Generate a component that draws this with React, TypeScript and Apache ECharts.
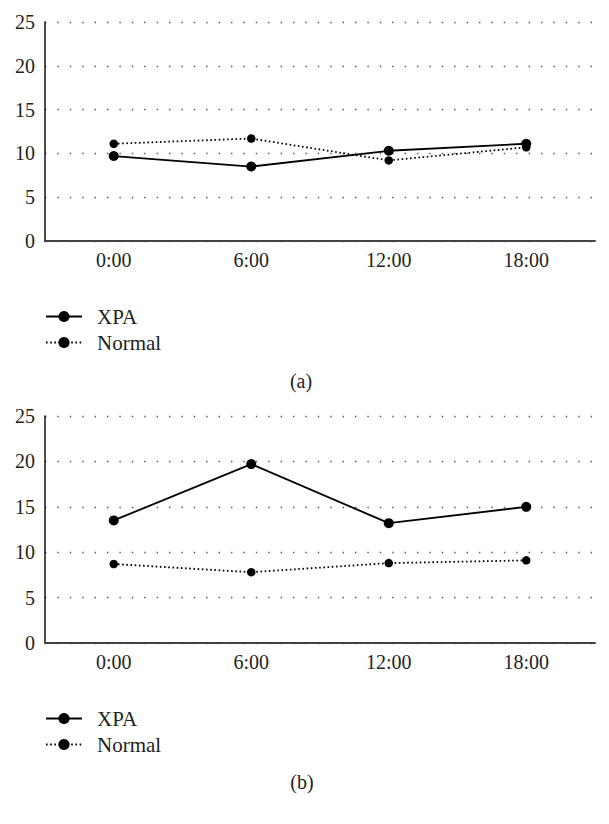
import React, { useEffect, useRef } from "react";
import * as echarts from "echarts";

const categories = ["0:00", "6:00", "12:00", "18:00"];
const xpaA = [9.7, 8.5, 10.3, 11.1];
const normalA = [11.1, 11.7, 9.2, 10.7];
const xpaB = [13.5, 19.7, 13.2, 15.0];
const normalB = [8.7, 7.8, 8.8, 9.1];
const yTicks = { min: 0, max: 25, interval: 5 };
const panelLabels = ["(a)", "(b)"];

const FONT = "'Liberation Serif', 'DejaVu Serif', serif";
const TEXT = "#231f20";

function xAxis(gridIndex: number) {
  return {
    type: "category",
    gridIndex,
    data: categories,
    boundaryGap: true,
    axisLine: { show: true, lineStyle: { color: "#444", width: 2 } },
    axisTick: { show: false },
    axisLabel: { color: TEXT, fontFamily: FONT, fontSize: 20, margin: 9 },
    splitLine: { show: false },
  };
}

function yAxis(gridIndex: number) {
  return {
    type: "value",
    gridIndex,
    min: yTicks.min,
    max: yTicks.max,
    interval: yTicks.interval,
    axisLine: { show: true, lineStyle: { color: "#111", width: 1.5 } },
    axisTick: { show: false },
    axisLabel: { color: TEXT, fontFamily: FONT, fontSize: 20, margin: 10 },
    splitLine: {
      show: true,
      lineStyle: { color: "#555", width: 1.4, type: [1.4, 11] },
    },
  };
}

function xpaSeries(idx: number, data: number[]) {
  return {
    name: "XPA",
    type: "line",
    xAxisIndex: idx,
    yAxisIndex: idx,
    data,
    symbol: "circle",
    symbolSize: 10,
    itemStyle: { color: "#000" },
    lineStyle: { color: "#000", width: 1.8, type: "solid" },
    z: 3,
  };
}

function normalSeries(idx: number, data: number[]) {
  return {
    name: "Normal",
    type: "line",
    xAxisIndex: idx,
    yAxisIndex: idx,
    data,
    symbol: "circle",
    symbolSize: 8.5,
    itemStyle: { color: "#000" },
    lineStyle: { color: "#000", width: 1.8, type: [1.6, 2.6] },
    z: 2,
  };
}

function legend(top: number) {
  return {
    orient: "vertical",
    left: 45,
    top,
    padding: 0,
    itemWidth: 36,
    itemHeight: 14,
    itemGap: 5,
    data: ["XPA", "Normal"],
    textStyle: { color: TEXT, fontFamily: FONT, fontSize: 21, padding: [0, 0, 0, 10] },
    selectedMode: false,
  };
}

export default function App() {
  const ref = useRef<HTMLDivElement>(null);
  useEffect(() => {
    if (!ref.current) return;
    const chart = echarts.init(ref.current, undefined, { renderer: "svg" });
    chart.setOption({
      animation: false,
      backgroundColor: "#fff",
      grid: [
        { left: 45, right: 14, top: 22, height: 219 },
        { left: 45, right: 14, top: 416, height: 227 },
      ],
      xAxis: [xAxis(0), xAxis(1)],
      yAxis: [yAxis(0), yAxis(1)],
      legend: [legend(306), legend(708)],
      series: [
        xpaSeries(0, xpaA),
        normalSeries(0, normalA),
        xpaSeries(1, xpaB),
        normalSeries(1, normalB),
      ],
      graphic: [
        {
          type: "text",
          x: 301,
          y: 381,
          style: {
            text: panelLabels[0],
            fill: TEXT,
            font: `20px ${FONT}`,
            textAlign: "center",
            textVerticalAlign: "middle",
          },
        },
        {
          type: "text",
          x: 302,
          y: 782,
          style: {
            text: panelLabels[1],
            fill: TEXT,
            font: `20px ${FONT}`,
            textAlign: "center",
            textVerticalAlign: "middle",
          },
        },
      ],
    });
    return () => chart.dispose();
  }, []);
  return (
    <div
      ref={ref}
      style={{ position: "fixed", left: 0, top: 0, width: 609, height: 824 }}
    />
  );
}
